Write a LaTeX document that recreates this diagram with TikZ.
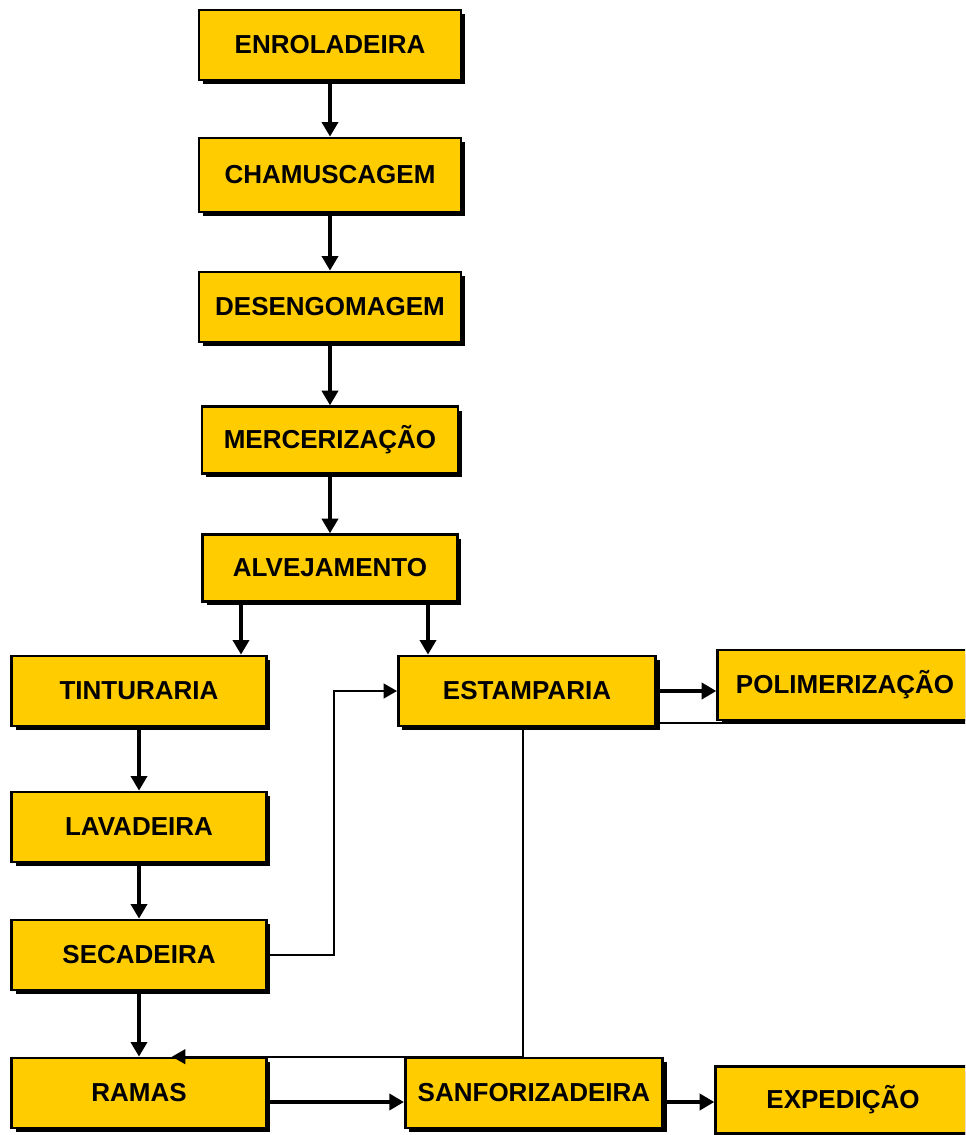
\documentclass[tikz,border=0pt]{standalone}
\usepackage{fontspec}
\setmainfont{Liberation Sans}
\usetikzlibrary{arrows.meta,positioning,shadows}
\definecolor{etapa}{HTML}{FFCC00}
\tikzset{%
	process/.style     = {draw, line width=2pt, fill=etapa, rectangle, minimum width=191pt, minimum height=52.5pt, inner sep=0pt, text centered, font=\fontsize{19.5}{22}\selectfont\bfseries, drop shadow={shadow xshift=3pt, shadow yshift=-3pt, opacity=1, fill=black}},
	longprocess/.style = {process, minimum width=196.5pt},
	arrow/.style       = {line width=2.75pt, -{Triangle[width=12pt,length=11pt]}},
	link/.style        = {line width=1.6pt},
	linkarrow/.style   = {link, -{Triangle[width=11pt,length=10pt]}},
}

\begin{document}
\begin{tikzpicture}[x=0.75pt,y=-0.75pt,node distance=97.5pt]
	\useasboundingbox (0,0) rectangle (965,1135);
	\clip (0,0) rectangle (965,1135);

	\node [longprocess] (enroladeira) at (330,45) {ENROLADEIRA};
	\node [longprocess, minimum height=55.5pt] (chamuscagem) [below of=enroladeira] {CHAMUSCAGEM};
	\node [longprocess] (desengomagem) [below of=chamuscagem, node distance=99pt] {DESENGOMAGEM};
	\node [process, minimum width=192pt, minimum height=50pt] (mercerizacao) [below of=desengomagem, node distance=99.75pt] {MERCERIZAÇÃO};
	\node [process, minimum height=50pt] (alvejamento) [below of=mercerizacao, node distance=96pt] {ALVEJAMENTO};

	\node [process] (tinturaria) at (139,691) {TINTURARIA};
	\node [process] (lavadeira) [below of=tinturaria, node distance=102pt] {LAVADEIRA};
	\node [process] (secadeira) [below of=lavadeira, node distance=96pt] {SECADEIRA};
	\node [process] (ramas) [below of=secadeira, node distance=103.5pt] {RAMAS};

	\node [process, minimum width=193pt] (estamparia) [right of=tinturaria, node distance=291pt] {ESTAMPARIA};
	\node [process] (polimerizacao) [right of=estamparia, node distance=238.5pt, yshift=4.5pt] {POLIMERIZAÇÃO};
	\node [process, minimum width=193pt] (sanforizadeira) [right of=ramas, node distance=296.25pt] {SANFORIZADEIRA};
	\node [process, minimum height=50pt] (expedicao) [right of=sanforizadeira, node distance=231.75pt, yshift=-5.25pt] {EXPEDIÇÃO};

	\draw[arrow] (enroladeira) -- (chamuscagem);
	\draw[arrow] (chamuscagem) -- (desengomagem);
	\draw[arrow] (desengomagem) -- (mercerizacao);
	\draw[arrow] (mercerizacao) -- (alvejamento);
	\draw[arrow] (alvejamento.south -| 241,0) -- (tinturaria.north -| 241,0);
	\draw[arrow] (alvejamento.south -| 428,0) -- (estamparia.north -| 428,0);

	\draw[arrow] (tinturaria) -- (lavadeira);
	\draw[arrow] (lavadeira) -- (secadeira);
	\draw[arrow] (secadeira) -- (ramas);

	\draw[linkarrow] (secadeira.east) -- ++(66,0) |- (estamparia.west);
	\draw[arrow] (estamparia.east) -- (estamparia.east -| polimerizacao.west);
	\coordinate (retorno) at (965,723);
	\draw[link] (retorno) -- (estamparia.east |- retorno);
	\draw[linkarrow] (estamparia.south -| 523,0) |- (ramas.north -| 172,0);

	\draw[arrow] (ramas.east |- 0,1102) -- (sanforizadeira.west |- 0,1102);
	\draw[arrow] (sanforizadeira.east |- 0,1102) -- (expedicao.west |- 0,1102);
\end{tikzpicture}
\end{document}
